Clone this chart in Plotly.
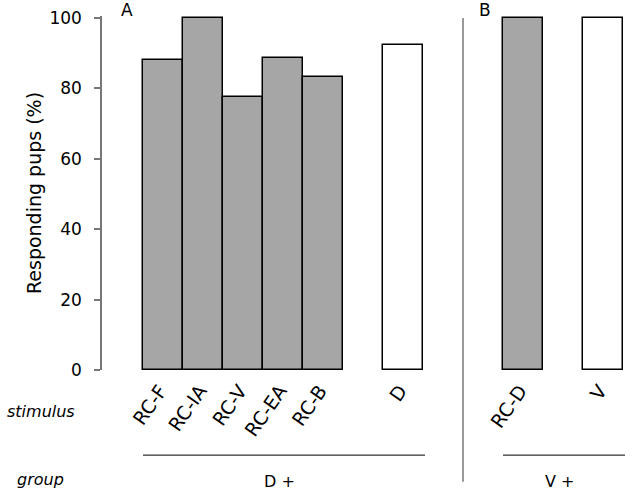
import plotly.graph_objects as go

# Data
categories = ["RC-F", "RC-IA", "RC-V", "RC-EA", "RC-B", "D", "RC-D", "V"]
positions = [0, 1, 2, 3, 4, 6, 9, 11]
values = [88.1, 100, 77.6, 88.6, 83.2, 92.3, 100, 100]
fills = ["#a6a6a6", "#a6a6a6", "#a6a6a6", "#a6a6a6", "#a6a6a6", "#ffffff", "#a6a6a6", "#ffffff"]
y_ticks = [0, 20, 40, 60, 80, 100]

FONT = "DejaVu Sans"

fig = go.Figure()
fig.add_trace(go.Bar(
    x=positions, y=values, width=1, cliponaxis=False,
    marker=dict(color=fills, line=dict(color="black", width=1.5)),
    showlegend=False,
))

fig.update_layout(
    width=632, height=494,
    margin=dict(l=102, r=0, t=16, b=124),
    paper_bgcolor="white", plot_bgcolor="white",
    font=dict(family=FONT, size=16, color="black"),
    bargap=0,
    xaxis=dict(range=[-1.525, 11.725], tickvals=positions, ticktext=categories,
               tickangle=-55, showline=False, showgrid=False, zeroline=False,
               ticks="", tickfont=dict(size=19), automargin=False,
               ticklabelstandoff=5, ticklabelshift=-3),
    yaxis=dict(range=[0, 100.57], tickvals=y_ticks, showgrid=False, zeroline=False,
               showline=True, linecolor="#777777", linewidth=1.5,
               ticks="outside", ticklen=6, tickcolor="#777777", tickwidth=1.5,
               ticklabelstandoff=9, tickfont=dict(size=17), automargin=False,
               title=dict(text="Responding pups (%)", standoff=3, font=dict(size=19))),
)

# separator
fig.add_shape(type="line", xref="x", yref="paper", x0=7.5, x1=7.5, y0=0.994, y1=-0.316,
              line=dict(color="#777777", width=1.5))
# group lines
fig.add_shape(type="line", xref="x", yref="paper", x0=-0.5, x1=6.55, y0=-0.2405, y1=-0.2405,
              line=dict(color="black", width=1))
fig.add_shape(type="line", xref="x", yref="paper", x0=8.5, x1=11.55, y0=-0.2405, y1=-0.2405,
              line=dict(color="black", width=1))

anns = [
    dict(text="<i>stimulus</i>", x=-0.183, xref="paper", y=-0.116, xanchor="left", size=16),
    dict(text="<i>group</i>", x=-0.164, xref="paper", y=-0.308, xanchor="left", size=16),
    dict(text="D +", x=2.9, xref="x", y=-0.316, xanchor="center", size=16),
    dict(text="V +", x=9.9, xref="x", y=-0.316, xanchor="center", size=16),
    dict(text="A", x=0.032, xref="paper", y=1.0165, xanchor="left", size=17),
    dict(text="B", x=0.708, xref="paper", y=1.0165, xanchor="left", size=17),
]
for a in anns:
    fig.add_annotation(text=a["text"], x=a["x"], xref=a["xref"], y=a["y"], yref="paper",
                       xanchor=a["xanchor"], yanchor="middle", showarrow=False,
                       font=dict(family=FONT, size=a["size"], color="black"))

fig.write_html("out.html", config={"displayModeBar": False},
               post_script="document.body.style.margin='0';document.body.style.padding='0';")
